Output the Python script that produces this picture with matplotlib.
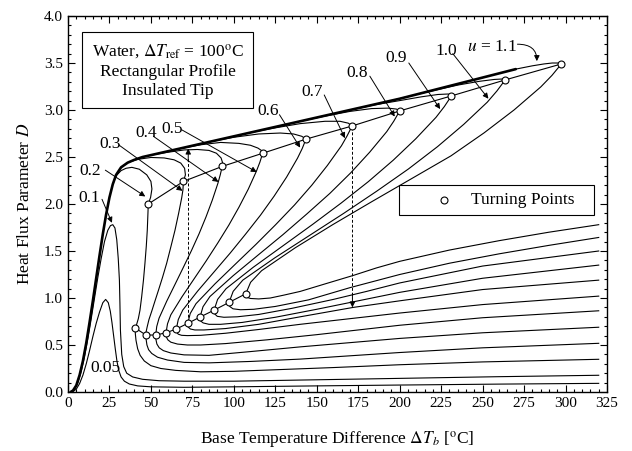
import matplotlib
matplotlib.use("Agg")
import matplotlib.pyplot as plt
from matplotlib.patches import Rectangle
from matplotlib.ticker import MultipleLocator

plt.rcParams['font.family'] = ['Liberation Serif', 'DejaVu Serif']
plt.rcParams['mathtext.fontset'] = 'stix'

# ---------------- data ----------------
# common nucleate-boiling envelope (heavy line)
ENV_X = [1.5, 3, 5, 7, 9, 11, 13, 15, 17, 19, 21, 23, 25, 27, 29, 32, 36, 40, 45, 80, 120, 160, 200, 240, 270]
ENV_D = [0, 0.015, 0.07, 0.18, 0.33, 0.52, 0.74, 0.97, 1.21, 1.45, 1.68, 1.89, 2.07, 2.21, 2.31, 2.39, 2.44, 2.47, 2.50, 2.64, 2.80, 2.96, 3.12, 3.30, 3.435]

U005_X = [2.5, 5, 7, 9, 11, 13, 15, 17, 19, 21, 22.7, 24.3, 25.5, 26.5, 27.5, 28.5, 29.5, 30.6, 32, 34, 37, 42, 50, 70, 100, 150, 200, 260, 320]
U005_D = [0, 0.03, 0.09, 0.18, 0.30, 0.44, 0.59, 0.73, 0.85, 0.95, 0.985, 0.95, 0.86, 0.74, 0.60, 0.46, 0.33, 0.23, 0.16, 0.115, 0.085, 0.065, 0.055, 0.05, 0.055, 0.065, 0.074, 0.084, 0.092]

U01_X = [1.8, 4, 6, 8, 10, 12, 14, 16, 18, 20, 22, 24, 25.6, 27, 28.3, 29.4, 30.3, 31, 31.3, 31.6, 32.4, 33.6, 35.4, 39, 45, 55, 70, 100, 150, 200, 260, 320]
U01_D = [0, 0.03, 0.10, 0.22, 0.38, 0.57, 0.78, 1.0, 1.22, 1.42, 1.60, 1.72, 1.77, 1.78, 1.745, 1.62, 1.42, 1.19, 0.95, 0.66, 0.40, 0.27, 0.20, 0.16, 0.135, 0.12, 0.115, 0.115, 0.13, 0.145, 0.163, 0.178]

U02_X = [27, 29, 32, 35, 38.5, 43, 47.5, 50, 50.6, 49.8, 48.4,
         48.2, 47.8, 47.2, 46.4, 45.5, 44.4, 43.4, 42.4, 41.4, 40.8, 40.6,
         40.6, 41.0, 42, 43.5, 46, 50, 56, 65, 80, 100, 130, 160, 200, 250, 320]
U02_D = [2.21, 2.30, 2.355, 2.38, 2.39, 2.37, 2.31, 2.24, 2.16, 2.07, 2.00,
         1.9, 1.72, 1.55, 1.37, 1.19, 1.01, 0.87, 0.78, 0.72, 0.69, 0.68,
         0.62, 0.55, 0.46, 0.39, 0.33, 0.28, 0.25, 0.23, 0.215, 0.22, 0.24, 0.26, 0.29, 0.32, 0.348]

U03_X = [36, 42, 50, 58, 64, 68, 70.3, 70.8, 69.6,
         69.3, 68.6, 66.7, 64.5, 62.1, 59.5, 57, 54.5, 52.3, 50.5, 48.8, 47.7, 47.1, 47,
         47.1, 47.6, 48.6, 50.5, 54, 60, 70, 85, 110, 140, 170, 200, 250, 320]
U03_D = [2.44, 2.475, 2.495, 2.49, 2.47, 2.435, 2.38, 2.31, 2.24,
         2.15, 2.07, 1.90, 1.72, 1.55, 1.37, 1.22, 1.08, 0.96, 0.86, 0.77, 0.69, 0.64, 0.606,
         0.56, 0.50, 0.45, 0.41, 0.37, 0.34, 0.315, 0.31, 0.325, 0.35, 0.385, 0.42, 0.47, 0.518]

U04_X = [50, 60, 70, 78, 85, 89.5, 92.3, 93.2, 93,
         91.8, 90.4, 87.0, 83.2, 79.0, 74.4, 69.5, 64.5, 59.5, 54.9, 53.5, 52.9,
         53.0, 53.6, 55, 57.5, 62, 70, 85, 110, 140, 170, 200, 250, 320]
U04_D = [2.52, 2.55, 2.575, 2.58, 2.57, 2.54, 2.49, 2.44, 2.40,
         2.31, 2.221, 2.041, 1.862, 1.682, 1.503, 1.324, 1.144, 0.965, 0.785, 0.696, 0.606,
         0.56, 0.51, 0.47, 0.44, 0.415, 0.395, 0.39, 0.43, 0.48, 0.525, 0.57, 0.63, 0.689]

U05_X = [65, 80, 92, 103, 110, 114.5, 117, 117.4,
         115.7, 113.6, 108.7, 103.1, 97.0, 90.3, 83.3, 76.0, 68.7, 62.0, 60.0, 59.1,
         59.3, 60.2, 62, 66, 72, 80, 95, 120, 150, 180, 200, 250, 320]
U05_D = [2.58, 2.63, 2.655, 2.645, 2.625, 2.595, 2.565, 2.54,
         2.445, 2.349, 2.158, 1.967, 1.776, 1.585, 1.394, 1.203, 1.012, 0.821, 0.7255, 0.63,
         0.585, 0.555, 0.53, 0.51, 0.50, 0.50, 0.515, 0.555, 0.61, 0.67, 0.71, 0.79, 0.864]

U06_X = [85, 100, 115, 128, 136, 141, 143.5,
         141.2, 138.4, 131.8, 124.3, 116.1, 107.1, 97.8, 88.0, 78.2, 69.2, 66.5, 65.3,
         65.5, 66.5, 68.5, 72, 80, 95, 115, 140, 170, 200, 250, 320]
U06_D = [2.66, 2.71, 2.745, 2.755, 2.745, 2.72, 2.69,
         2.589, 2.488, 2.286, 2.084, 1.882, 1.68, 1.478, 1.276, 1.074, 0.872, 0.771, 0.67,
         0.635, 0.615, 0.603, 0.60, 0.603, 0.625, 0.665, 0.72, 0.78, 0.84, 0.93, 1.02]

U07_X = [110, 125, 140, 155, 164, 169, 171.3,
         168.3, 164.9, 156.4, 147.0, 136.6, 125.2, 113.3, 100.9, 88.6, 77.2, 73.7, 72.2,
         72.5, 73.8, 76.5, 82, 95, 115, 140, 172, 200, 250, 320]
U07_D = [2.76, 2.81, 2.855, 2.88, 2.88, 2.86, 2.83,
         2.725, 2.62, 2.41, 2.20, 1.99, 1.78, 1.57, 1.36, 1.15, 0.94, 0.835, 0.73,
         0.69, 0.67, 0.66, 0.66, 0.675, 0.72, 0.80, 0.90, 0.97, 1.09, 1.19]

U08_X = [140, 155, 170, 183, 193, 198, 200,
         196.4, 192.2, 181.9, 170.5, 157.9, 144.0, 129.6, 114.5, 99.5, 85.6, 81.4, 79.6,
         80, 81.5, 85, 92, 105, 125, 150, 175, 200, 250, 320]
U08_D = [2.88, 2.935, 2.985, 3.015, 3.02, 3.01, 2.99,
         2.88, 2.77, 2.551, 2.332, 2.113, 1.894, 1.674, 1.455, 1.236, 1.016, 0.907, 0.797,
         0.755, 0.735, 0.72, 0.72, 0.74, 0.795, 0.88, 0.97, 1.06, 1.21, 1.35]

U09_X = [165, 185, 200, 213, 223, 229, 231.5, 231.2,
         226.9, 221.9, 209.7, 196.1, 181.1, 164.7, 147.5, 129.6, 111.7, 95.3, 90.2, 88.1,
         88.5, 90, 94, 102, 115, 135, 160, 180, 200, 250, 320]
U09_D = [2.98, 3.055, 3.10, 3.14, 3.165, 3.17, 3.16, 3.15,
         3.036, 2.922, 2.694, 2.466, 2.238, 2.01, 1.783, 1.555, 1.327, 1.099, 0.985, 0.871,
         0.83, 0.805, 0.795, 0.80, 0.825, 0.89, 0.985, 1.07, 1.16, 1.34, 1.50]

U10_X = [195, 215, 235, 248, 257, 262, 263.6,
         258.6, 252.8, 238.6, 222.8, 205.3, 186.2, 166.2, 145.4, 124.6, 105.4, 99.6, 97.1,
         97.5, 99.5, 104, 112, 125, 145, 170, 200, 230, 260, 290, 320]
U10_D = [3.10, 3.185, 3.265, 3.305, 3.325, 3.33, 3.32,
         3.202, 3.083, 2.847, 2.61, 2.373, 2.137, 1.9, 1.663, 1.426, 1.19, 1.071, 0.953,
         0.91, 0.885, 0.875, 0.88, 0.91, 0.98, 1.11, 1.25, 1.37, 1.47, 1.56, 1.644]

U11_X = [270, 280, 287, 292, 295.5, 297.5,
         291.8, 285.1, 269.0, 250.9, 230.9, 207.0, 183.0, 159.5, 137.0, 116.7, 110.1, 107.2,
         107.5, 110, 115, 122, 130, 140, 155, 172, 186, 200, 230, 260, 290, 320]
U11_D = [3.435, 3.47, 3.49, 3.50, 3.50, 3.49,
         3.368, 3.246, 3.001, 2.757, 2.512, 2.268, 2.023, 1.779, 1.534, 1.29, 1.167, 1.045,
         1.01, 0.995, 0.99, 1.0, 1.03, 1.07, 1.15, 1.24, 1.32, 1.39, 1.51, 1.61, 1.70, 1.78]

# turning points
TP_UP_X = [48.4, 69.6, 93.0, 117.4, 143.5, 171.3, 200.0, 231.2, 263.6, 297.5]
TP_UP_D = [2.00, 2.24, 2.40, 2.54, 2.69, 2.83, 2.99, 3.15, 3.32, 3.49]
TP_LO_X = [40.6, 47.0, 52.9, 59.1, 65.3, 72.2, 79.6, 88.1, 97.1, 107.2]
TP_LO_D = [0.68, 0.606, 0.606, 0.63, 0.67, 0.73, 0.797, 0.871, 0.953, 1.045]

# curve labels: text, text position, arrow start, arrow tip
LABELS = ['0.1', '0.2', '0.3', '0.4', '0.5', '0.6', '0.7', '0.8', '0.9', '1.0']
LABEL_POS = [(13, 2.06), (13.6, 2.35), (25.5, 2.64), (47.3, 2.75), (62.5, 2.80),
             (120.5, 2.99), (147.5, 3.19), (174.6, 3.39), (198, 3.55), (228, 3.63)]
ARROW_FROM = [(20.5, 2.05), (22.5, 2.36), (30.5, 2.63), (51.5, 2.72), (68.5, 2.79),
              (127.5, 2.95), (154.5, 3.16), (182, 3.36), (205.5, 3.50), (232, 3.60)]
ARROW_TO = [(26.5, 1.80), (46.6, 2.08), (69.0, 2.14), (90.7, 2.235), (113.8, 2.34),
            (140, 2.60), (167, 2.70), (197, 2.93), (224.4, 3.01), (253.5, 3.12)]

# ---------------- figure ----------------
fig = plt.figure(figsize=(6.32, 4.51), dpi=100)
ax = fig.add_axes([68 / 632, 59 / 451, 539 / 632, 376 / 451])

LW = 0.8
curves = [(U005_X, U005_D), (U01_X, U01_D), (U02_X, U02_D), (U03_X, U03_D), (U04_X, U04_D),
          (U05_X, U05_D), (U06_X, U06_D), (U07_X, U07_D), (U08_X, U08_D), (U09_X, U09_D),
          (U10_X, U10_D), (U11_X, U11_D)]
for cx, cd in curves:
    ax.plot(cx, cd, color='k', lw=LW, solid_joinstyle='round')
ax.plot(ENV_X, ENV_D, color='k', lw=1.9, solid_joinstyle='round', solid_capstyle='round')

# turning points
ax.plot(TP_UP_X, TP_UP_D, '-', color='k', lw=LW)
ax.plot(TP_LO_X, TP_LO_D, '-', color='k', lw=LW)
ax.plot(TP_UP_X, TP_UP_D, 'o', ms=5, mfc='white', mec='k', mew=0.8, zorder=5)
ax.plot(TP_LO_X, TP_LO_D, 'o', ms=5, mfc='white', mec='k', mew=0.8, zorder=5)

# hysteresis arrows (dashed)
ax.plot([72.5, 72.5], [0.74, 2.50], ls=(0, (3, 2)), color='k', lw=0.7)
ax.annotate('', xy=(72.5, 2.59), xytext=(72.5, 2.45),
            arrowprops=dict(arrowstyle='-|>', color='k', lw=0.7, mutation_scale=8,
                            shrinkA=0, shrinkB=0))
ax.plot([171.5, 171.5], [2.82, 1.0], ls=(0, (3, 2)), color='k', lw=0.7)
ax.annotate('', xy=(171.5, 0.90), xytext=(171.5, 1.05),
            arrowprops=dict(arrowstyle='-|>', color='k', lw=0.7, mutation_scale=8,
                            shrinkA=0, shrinkB=0))

# labels with arrows
for lab, pos, a0, a1 in zip(LABELS, LABEL_POS, ARROW_FROM, ARROW_TO):
    ax.text(pos[0], pos[1], lab, fontsize=12.5, ha='center', va='center')
    ax.annotate('', xy=a1, xytext=a0,
                arrowprops=dict(arrowstyle='-|>', color='k', lw=0.7, mutation_scale=8,
                                shrinkA=0, shrinkB=0))
ax.text(255.7, 3.67, r'$u$ = 1.1', fontsize=12.5, ha='center', va='center')
ax.annotate('', xy=(282.7, 3.52), xytext=(271, 3.70),
            arrowprops=dict(arrowstyle='-|>', color='k', lw=0.7, mutation_scale=8,
                            shrinkA=0, shrinkB=0,
                            connectionstyle='angle3,angleA=0,angleB=90'))
ax.text(22.6, 0.25, '0.05', fontsize=12.5, ha='center', va='center')

# info box
ax.text(60.0, 3.42, 'Water, $\\Delta T_{\\rm ref}$ = 100$^{\\rm o}$C\nRectangular Profile\nInsulated Tip',
        fontsize=12.5, ha='center', va='center', multialignment='center', linespacing=1.25,
        bbox=dict(boxstyle='square,pad=0.55', fc='white', ec='k', lw=0.8))

# legend box (drawn by hand to match the reference frame)
ax.add_patch(Rectangle((199.6, 1.88), 117.6, 0.32, fc='white', ec='k', lw=0.8, zorder=6))
ax.plot([226.5], [2.04], 'o', ms=5, mfc='white', mec='k', mew=0.8, zorder=7)
ax.text(243.0, 2.04, 'Turning Points', fontsize=12.5, ha='left', va='center', zorder=7)

ax.set_xlim(0, 325)
ax.set_ylim(0, 4.0)
ax.xaxis.set_major_locator(MultipleLocator(25))
ax.xaxis.set_minor_locator(MultipleLocator(5))
ax.yaxis.set_major_locator(MultipleLocator(0.5))
ax.yaxis.set_minor_locator(MultipleLocator(0.1))
ax.yaxis.set_major_formatter(plt.FuncFormatter(lambda v, p: f'{v:.1f}'))
ax.tick_params(which='both', direction='in', top=True, right=True, width=0.8, labelsize=11)
ax.tick_params(which='major', length=5)
ax.tick_params(which='minor', length=2.5)
for s in ax.spines.values():
    s.set_linewidth(1.0)

ax.set_xlabel(r'Base Temperature Difference $\Delta T_b$ [$^{\rm o}$C]', fontsize=12.5, labelpad=14)
ax.set_ylabel(r'Heat Flux Parameter $D$', fontsize=12.5, labelpad=8)

fig.savefig('out.png', dpi=100)
